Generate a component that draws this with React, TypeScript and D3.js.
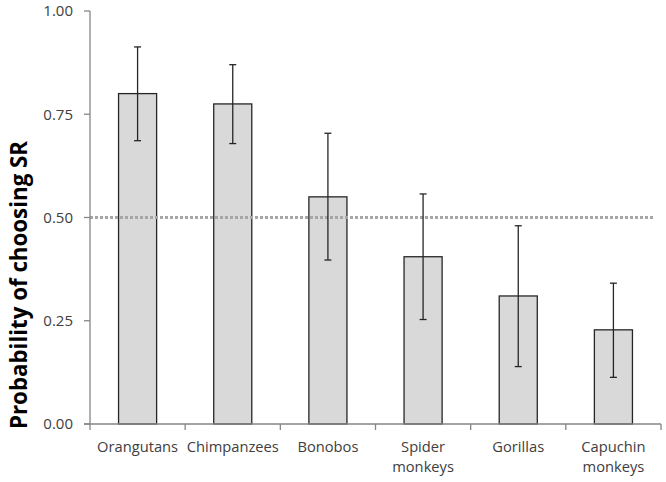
import React from "react";
import * as d3 from "d3";

const categories = ["Orangutans", "Chimpanzees", "Bonobos", "Spider monkeys", "Gorillas", "Capuchin monkeys"];
const labelLines = [["Orangutans"], ["Chimpanzees"], ["Bonobos"], ["Spider", "monkeys"], ["Gorillas"], ["Capuchin", "monkeys"]];
const values = [0.80, 0.775, 0.55, 0.405, 0.31, 0.228];
const errLow = [0.686, 0.679, 0.397, 0.253, 0.139, 0.113];
const errHigh = [0.913, 0.870, 0.704, 0.557, 0.480, 0.341];
const yTicks = [0, 0.25, 0.5, 0.75, 1.0];
const chanceLevel = 0.5;

export default function App() {
  const W = 666, H = 482;
  const left = 90, right = 661, top = 11, bottom = 424;
  const x = d3.scaleBand<string>().domain(categories).range([left, right]).paddingInner(0.6).paddingOuter(0.3);
  const y = d3.scaleLinear().domain([0, 1]).range([bottom, top]);
  const step = x.step();
  const bw = x.bandwidth();
  const font = "'Open Sans', sans-serif";
  const axisColor = "#868686";
  const textColor = "#404040";
  return (
    <svg width={W} height={H} style={{ position: "absolute", left: 0, top: 0, background: "#fff" }}>
      {/* bars */}
      {categories.map((c, i) => (
        <rect key={c} x={x(c)!} y={y(values[i])} width={bw} height={y(0) - y(values[i])}
          fill="#d9d9d9" stroke="#262626" strokeWidth={1.3} />
      ))}
      {/* dotted chance line */}
      <line x1={left} x2={653} y1={y(chanceLevel)} y2={y(chanceLevel)} stroke="#a6a6a6" strokeWidth={3} strokeDasharray="3 2" />
      {/* error bars */}
      {categories.map((c, i) => {
        const cx = x(c)! + bw / 2;
        return (
          <g key={"e" + c} stroke="#262626" strokeWidth={1.3}>
            <line x1={cx} x2={cx} y1={y(errHigh[i])} y2={y(errLow[i])} />
            <line x1={cx - 3.5} x2={cx + 3.5} y1={y(errHigh[i])} y2={y(errHigh[i])} />
            <line x1={cx - 3.5} x2={cx + 3.5} y1={y(errLow[i])} y2={y(errLow[i])} />
          </g>
        );
      })}
      {/* y axis */}
      <line x1={left} x2={left} y1={top} y2={bottom} stroke={axisColor} strokeWidth={1.3} />
      {yTicks.map((t) => (
        <g key={t}>
          <line x1={left - 6} x2={left} y1={y(t)} y2={y(t)} stroke={axisColor} strokeWidth={1.3} />
          <text x={73} y={y(t)} dy="0.35em" textAnchor="end" fontFamily={font} fontSize={15} fill={textColor}>
            {t.toFixed(2)}
          </text>
        </g>
      ))}
      {/* x axis */}
      <line x1={left - 6} x2={right} y1={bottom} y2={bottom} stroke={axisColor} strokeWidth={1.3} />
      {d3.range(categories.length + 1).map((i) => (
        <line key={"t" + i} x1={left + i * step} x2={left + i * step} y1={bottom} y2={bottom + 6} stroke={axisColor} strokeWidth={1.3} />
      ))}
      {categories.map((c, i) => (
        <text key={"l" + c} x={x(c)! + bw / 2} y={452} textAnchor="middle" fontFamily={font} fontSize={14.7} fill={textColor}>
          {labelLines[i].map((ln, j) => (
            <tspan key={j} x={x(c)! + bw / 2} dy={j === 0 ? 0 : 20}>{ln}</tspan>
          ))}
        </text>
      ))}
      {/* y title */}
      <text transform={`translate(27, 285) rotate(-90)`} textAnchor="middle"
        fontFamily={font} fontSize={22.3} fontWeight="bold" fill="#000">
        Probability of choosing SR
      </text>
    </svg>
  );
}
